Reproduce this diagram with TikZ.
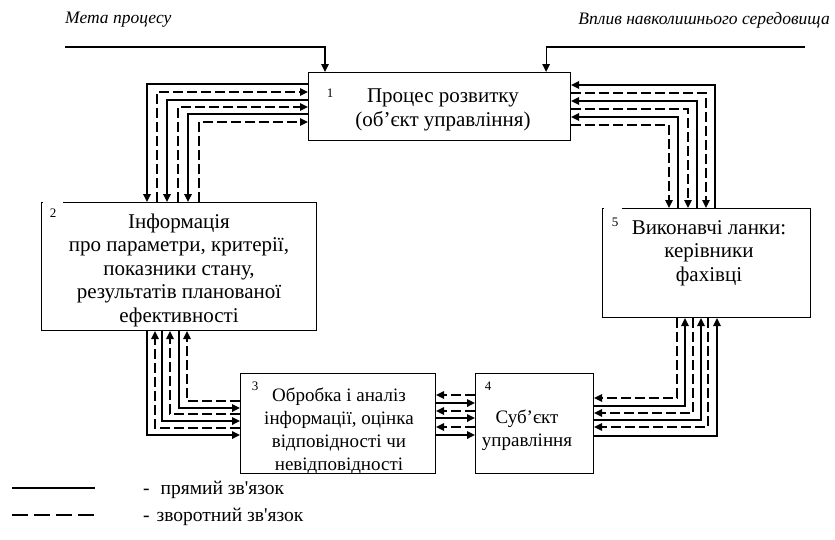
\documentclass[tikz,border=0pt]{standalone}
\usepackage{fontspec}
\setmainfont{Liberation Serif}[Ligatures=TeXOff]
\usetikzlibrary{arrows.meta,calc}
\begin{document}
\begin{tikzpicture}[x=1pt,y=-1pt,
  box/.style={draw,line width=1.1pt,inner sep=0pt,anchor=north west},
  txtA/.style={align=center,inner sep=0pt,font=\fontsize{21}{23.5}\selectfont},
  txtB/.style={align=center,inner sep=0pt,font=\fontsize{19}{23}\selectfont},
  num/.style={inner sep=1pt,font=\fontsize{13}{15}\selectfont},
  tip/.style={-{Triangle[length=8pt,width=7.5pt]}},
  fw/.style={line width=1.7pt,tip},
  bw/.style={line width=1.6pt,dash pattern=on 10pt off 4pt,tip},
  inp/.style={line width=1.2pt,tip}]
\useasboundingbox (0,0) rectangle (835,539);
% boxes
\node[box,minimum width=262pt,minimum height=68pt] (b1) at (308,72) {};
\node[box,minimum width=275pt,minimum height=128pt] (b2) at (41,202) {};
\node[box,minimum width=195pt,minimum height=100pt] (b3) at (240,373) {};
\node[box,minimum width=118pt,minimum height=100pt] (b4) at (475,373) {};
\node[box,minimum width=208pt,minimum height=109pt] (b5) at (602,208) {};
% gaps in top borders
\draw[white,line width=2pt] ($(b2.north west)+(1.5,0)$) -- ($(b2.north west)+(22,0)$);
\draw[white,line width=2pt] ($(b5.north west)+(1.5,0)$) -- ($(b5.north west)+(20,0)$);
% numbers
\node[num] (n1) at (330,93) {1};
\node[num] (n2) at (53,213) {2};
\node[num] (n3) at (255,386) {3};
\node[num] (n4) at (488,386) {4};
\node[num] (n5) at (615,222) {5};
% texts
\node[txtA] (t1) at (443,110) {Процес розвитку\\(об’єкт управління)};
\node[txtA] (t2) at (179,270) {Інформація\\про параметри, критерії,\\показники стану,\\результатів планованої\\ефективності};
\node[txtB] (t3) at (339,431) {Обробка і аналіз\\інформації, оцінка\\відповідності чи\\невідповідності};
\node[txtB] (t4) at (527,430) {Суб’єкт\\управління};
\node[txtA] (t5) at (709,253) {Виконавчі ланки:\\керівники\\фахівці};
% inputs
\node[font=\itshape\fontsize{17.5}{20}\selectfont,anchor=west,inner sep=0pt] (lm) at (65,20) {Мета процесу};
\node[font=\itshape\fontsize{17.5}{20}\selectfont,anchor=east,inner sep=0pt] (lv) at (830,20) {Вплив навколишнього середовища};
\coordinate (m1) at (65,47);
\coordinate (v1) at (805,47);
\draw[inp] (m1) -| ($(b1.north west)+(17,0)$);
\draw[inp] (v1) -| ($(b1.north east)+(-25,0)$);
% 1 <-> 2
\draw[fw] ($(b1.north west)+(0,12)$) -| ($(b2.north west)+(106,0)$);
\draw[bw] ($(b2.north west)+(116,0)$) |- ($(b1.north west)+(0,20)$);
\draw[fw] ($(b1.north west)+(0,28)$) -| ($(b2.north west)+(126,0)$);
\draw[bw] ($(b2.north west)+(137,0)$) |- ($(b1.north west)+(0,35)$);
\draw[fw] ($(b1.north west)+(0,42)$) -| ($(b2.north west)+(147,0)$);
\draw[bw] ($(b2.north west)+(158,0)$) |- ($(b1.north west)+(0,50)$);
% 5 <-> 1
\draw[fw] ($(b5.north west)+(113,0)$) |- ($(b1.north east)+(0,13)$);
\draw[bw] ($(b1.north east)+(0,21)$) -| ($(b5.north west)+(104,0)$);
\draw[fw] ($(b5.north west)+(95,0)$) |- ($(b1.north east)+(0,29)$);
\draw[bw] ($(b1.north east)+(0,37)$) -| ($(b5.north west)+(86,0)$);
\draw[fw] ($(b5.north west)+(76,0)$) |- ($(b1.north east)+(0,45)$);
\draw[bw] ($(b1.north east)+(0,53)$) -| ($(b5.north west)+(67,0)$);
% 2 <-> 3
\draw[fw] ($(b2.south west)+(106,0)$) |- ($(b3.north west)+(0,62)$);
\draw[bw] ($(b3.north west)+(0,55)$) -| ($(b2.south west)+(114,0)$);
\draw[fw] ($(b2.south west)+(121,0)$) |- ($(b3.north west)+(0,48)$);
\draw[bw] ($(b3.north west)+(0,41)$) -| ($(b2.south west)+(129,0)$);
\draw[fw] ($(b2.south west)+(138,0)$) |- ($(b3.north west)+(0,35)$);
\draw[bw] ($(b3.north west)+(0,28)$) -| ($(b2.south west)+(146,0)$);
% 3 <-> 4
\draw[bw] ($(b4.north west)+(0,22)$) -- ($(b3.north east)+(0,22)$);
\draw[fw] ($(b3.north east)+(0,30)$) -- ($(b4.north west)+(0,30)$);
\draw[bw] ($(b4.north west)+(0,38)$) -- ($(b3.north east)+(0,38)$);
\draw[fw] ($(b3.north east)+(0,45)$) -- ($(b4.north west)+(0,45)$);
\draw[bw] ($(b4.north west)+(0,54)$) -- ($(b3.north east)+(0,54)$);
\draw[fw] ($(b3.north east)+(0,62)$) -- ($(b4.north west)+(0,62)$);
% 4 <-> 5
\draw[bw] ($(b5.south west)+(75,0)$) |- ($(b4.north east)+(0,25)$);
\draw[fw] ($(b4.north east)+(0,33)$) -| ($(b5.south west)+(83,0)$);
\draw[bw] ($(b5.south west)+(91,0)$) |- ($(b4.north east)+(0,40)$);
\draw[fw] ($(b4.north east)+(0,47)$) -| ($(b5.south west)+(99,0)$);
\draw[bw] ($(b5.south west)+(106,0)$) |- ($(b4.north east)+(0,54)$);
\draw[fw] ($(b4.north east)+(0,63)$) -| ($(b5.south west)+(115,0)$);
% legend
\coordinate (ls1) at (12,488);
\coordinate (ls2) at (95,488);
\coordinate (ld1) at (12,515);
\coordinate (ld2) at (95,515);
\draw[line width=1.3pt] (ls1) -- (ls2);
\draw[line width=1.3pt,dash pattern=on 16pt off 6pt] (ld1) -- (ld2);
\node[font=\fontsize{19.5}{22}\selectfont,anchor=base west,inner sep=0pt] (lg1) at (143,494) {-\hspace{11pt}прямий зв'язок};
\node[font=\fontsize{19.5}{22}\selectfont,anchor=base west,inner sep=0pt] (lg2) at (143,521) {-\hspace{7pt}зворотний зв'язок};
\end{tikzpicture}
\end{document}
